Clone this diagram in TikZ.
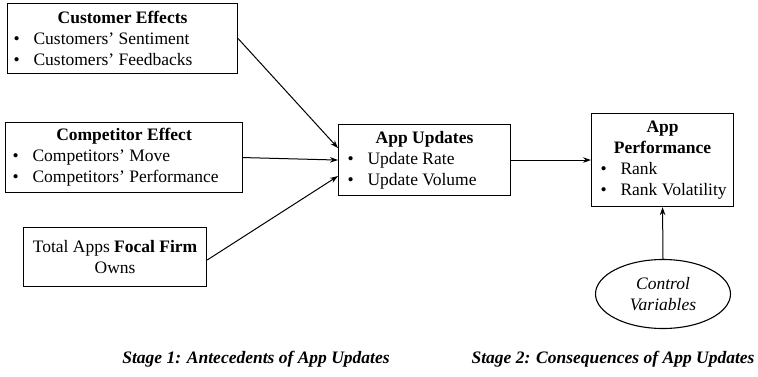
\documentclass[tikz,border=0pt]{standalone}
\usepackage{fontspec}
\setmainfont{Liberation Serif}
\usetikzlibrary{arrows.meta,shapes.geometric}
\newcommand{\bitem}[1]{\mbox{\makebox[20pt][l]{\textbullet}#1}}
\begin{document}
\begin{tikzpicture}[x=1pt,y=-1pt,
  every node/.style={font=\fontsize{17.5}{21}\selectfont},
  box/.style={draw,line width=1.1pt,inner ysep=0pt,anchor=north west},
  conn/.style={line width=1pt,-{Stealth[length=8pt,width=5.5pt]}}]
\useasboundingbox (0,0) rectangle (758,376);
\node[box,minimum width=230pt,minimum height=70pt,inner xsep=6pt] (cust) at (7,3)
  {\parbox{218pt}{\raggedright\centerline{\textbf{Customer Effects}}\bitem{Customers’ Sentiment}\\\bitem{Customers’ Feedbacks}}};
\node[box,minimum width=237pt,minimum height=70pt,inner xsep=7pt] (comp) at (5,122)
  {\parbox{223pt}{\raggedright\centerline{\textbf{Competitor Effect}}\bitem{Competitors’ Move}\\\bitem{Competitors’ Performance}}};
\node[box,minimum width=183pt,minimum height=59pt,align=center] (focal) at (23,227)
  {Total Apps \textbf{Focal Firm}\\Owns};
\node[box,minimum width=172pt,minimum height=71pt,inner xsep=9pt] (upd) at (338,124)
  {\parbox{154pt}{\raggedright\centerline{\textbf{App Updates}}\bitem{Update Rate}\\\bitem{Update Volume}}};
\node[box,minimum width=142pt,minimum height=93pt,inner xsep=9pt] (perf) at (591,113)
  {\parbox{124pt}{\raggedright\centerline{\textbf{App}}\centerline{\textbf{Performance}}\bitem{Rank}\\\bitem{Rank Volatility}}};
\node[draw,ellipse,line width=1.1pt,minimum width=135pt,minimum height=69pt,inner sep=0pt,align=center,font=\fontsize{17.5}{21}\selectfont\itshape] (ctrl) at (663,294)
  {Control\\Variables};
\node[font=\fontsize{17.5}{21}\selectfont\bfseries\itshape] (s1) at (256,359) {Stage 1: Antecedents of App Updates};
\node[font=\fontsize{17.5}{21}\selectfont\bfseries\itshape] (s2) at (613,359) {Stage 2: Consequences of App Updates};
\draw[conn] (cust.east) -- ([yshift=12pt]upd.west);
\draw[conn] (comp.east) -- (upd.west);
\draw[conn] ([yshift=-3pt]focal.east) -- ([yshift=-16pt]upd.west);
\draw[conn] (upd.east) -- (perf.west);
\draw[conn] (ctrl.north) -- (perf.south);
\end{tikzpicture}
\end{document}
